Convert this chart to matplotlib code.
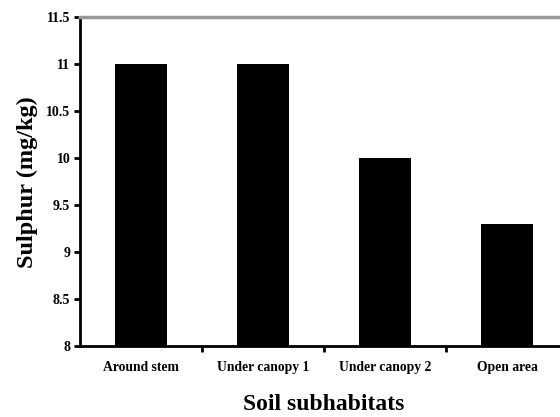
import numpy as np
import matplotlib.pyplot as plt

# Sulphur content by soil subhabitat
categories = ['Around stem', 'Under canopy 1', 'Under canopy 2', 'Open area']
sulphur = [11.0, 11.0, 10.0, 9.3]

plt.rcParams['font.family'] = ['Liberation Serif', 'DejaVu Serif']
plt.rcParams['font.weight'] = 'bold'

fig = plt.figure(figsize=(5.6, 4.17), dpi=100)
ax = fig.add_axes([0.1429, 0.1703, 0.8714, 0.788])

x = np.arange(len(categories))
ax.bar(x, sulphur, width=0.43, color='black', bottom=0)

ax.set_xlim(-0.5, len(categories) - 0.5)
ax.set_ylim(8, 11.5)
ax.set_yticks(np.arange(8, 11.51, 0.5))
ax.set_yticklabels(['8', '8.5', '9', '9.5', '10', '10.5', '11', '11.5'],
                   fontsize=10, fontweight='bold')

# ticks between categories, labels at category centres
ax.set_xticks(x[:-1] + 0.5)
ax.set_xticklabels([])
ax.set_xticks(x, minor=True)
ax.set_xticklabels(categories, minor=True, fontsize=9.8, fontweight='bold')
ax.tick_params(axis='x', which='minor', length=0, pad=11)
ax.tick_params(axis='x', which='major', length=4, width=2, direction='out')
ax.tick_params(axis='y', length=4, width=2, direction='out', pad=3)

ax.spines['left'].set_linewidth(2)
ax.spines['bottom'].set_linewidth(2)
ax.spines['top'].set_color('#999999')
ax.spines['top'].set_linewidth(2.5)
ax.spines['right'].set_visible(False)

ax.set_xlabel('Soil subhabitats', fontsize=17, fontweight='bold', labelpad=14)
ax.set_ylabel('Sulphur (mg/kg)', fontsize=17.5, fontweight='bold', labelpad=6)

fig.savefig('out.png', dpi=100)
